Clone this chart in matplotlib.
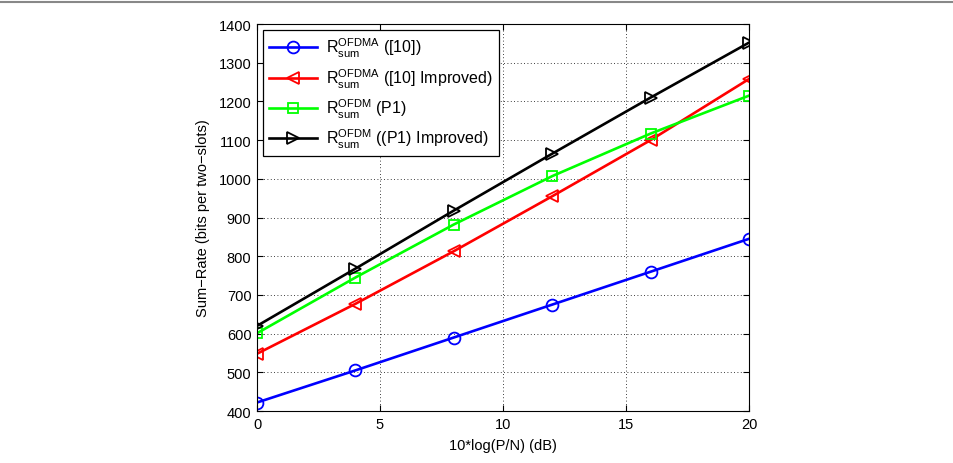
import matplotlib
matplotlib.use("Agg")
import matplotlib.pyplot as plt
from matplotlib.lines import Line2D

plt.rcParams['font.family'] = ['Liberation Sans', 'DejaVu Sans']
plt.rcParams['mathtext.fontset'] = 'custom'
plt.rcParams['mathtext.rm'] = 'Liberation Sans'
plt.rcParams['mathtext.it'] = 'Liberation Sans'
plt.rcParams['mathtext.bf'] = 'Liberation Sans:bold'

snr_db = [0, 4, 8, 12, 16, 20]
ofdma_10 = [422, 505, 590, 675, 760, 845]
ofdma_10_improved = [548, 677, 813, 955, 1100, 1258]
ofdm_p1 = [601, 745, 882, 1007, 1117, 1215]
ofdm_p1_improved = [620, 768, 918, 1065, 1210, 1352]

labels = [
    r'$\mathrm{R}_{\mathrm{sum}}^{\mathrm{OFDMA}}$ ([10])',
    r'$\mathrm{R}_{\mathrm{sum}}^{\mathrm{OFDMA}}$ ([10] Improved)',
    r'$\mathrm{R}_{\mathrm{sum}}^{\mathrm{OFDM}}$ (P1)',
    r'$\mathrm{R}_{\mathrm{sum}}^{\mathrm{OFDM}}$ ((P1) Improved)',
]
xticks = [0, 5, 10, 15, 20]
yticks = [400, 500, 600, 700, 800, 900, 1000, 1100, 1200, 1300, 1400]

fig = plt.figure(figsize=(9.54, 4.64), dpi=100)
fig.add_artist(Line2D([0, 1], [0.994, 0.994], color='#888888', lw=1.5, transform=fig.transFigure))
ax = fig.add_axes([0.2694, 0.112, 0.5157, 0.834])

series = [
    (ofdma_10, '#0000ff', 'o'),
    (ofdma_10_improved, '#ff0000', '<'),
    (ofdm_p1, '#00ff00', 's'),
    (ofdm_p1_improved, '#000000', '>'),
]
for (vals, col, mk), lab in zip(series, labels):
    ax.plot(snr_db, vals, color=col, marker=mk, markerfacecolor='none',
            markeredgecolor=col, markersize=8.5 if mk != 's' else 7,
            markeredgewidth=1.3, lw=1.9, label=lab)

ax.set_xlim(0, 20)
ax.set_ylim(400, 1400)
ax.set_xticks(xticks)
ax.set_yticks(yticks)
ax.tick_params(direction='in', top=True, right=True, labelsize=10.5, length=4, pad=4)
ax.grid(True, linestyle=(0, (1, 3)), color='#000000', lw=0.6)
for s in ax.spines.values():
    s.set_linewidth(0.8)
ax.set_xlabel('10*log(P/N) (dB)', fontsize=10.5, labelpad=5)
ax.set_ylabel('Sum\u2212Rate (bits per two\u2212slots)', fontsize=10.5, labelpad=6)

leg = ax.legend(loc='upper left', prop={'size': 11.5}, fancybox=False, framealpha=1,
                edgecolor='black', borderpad=0.35, labelspacing=0.45,
                handlelength=3.0, handletextpad=0.6, borderaxespad=0.4)
leg.get_frame().set_linewidth(0.9)

fig.savefig('out.png', dpi=100)
